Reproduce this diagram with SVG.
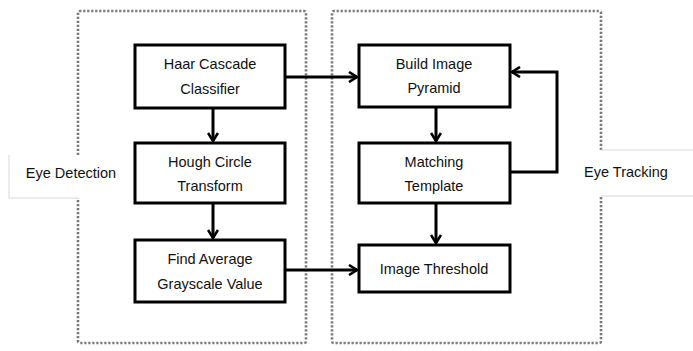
<svg xmlns="http://www.w3.org/2000/svg" width="693" height="351" viewBox="0 0 693 351">
<defs>
<style>
.node rect{fill:#fff;stroke:#000;stroke-width:3}
.node text,.lbl text{font-family:"Liberation Sans",Arial,sans-serif;font-size:14.5px;fill:#111;text-anchor:middle}
.dot{fill:none;stroke:#7a7a7a;stroke-width:2.6;stroke-dasharray:2.2 1.8}
.thin{fill:none;stroke:#d8d8d8;stroke-width:1}
.conn{fill:none;stroke:#000;stroke-width:3}
</style>
<marker id="ah" viewBox="0 0 12 12" refX="10" refY="6" markerWidth="12" markerHeight="12" markerUnits="userSpaceOnUse" orient="auto">
<path d="M2,1 L10,6 L2,11" fill="none" stroke="#000" stroke-width="2.6"/>
</marker>
</defs>
<rect width="693" height="351" fill="#fff"/>
<g id="groups">
<path class="dot" d="M78,155 L78,13 Q78,11 80,11 L304,11 Q306,11 306,13 L306,341 Q306,343 304,343 L80,343 Q78,343 78,341 L78,198"/>
<path class="dot" d="M601,150 L601,13 Q601,11 599,11 L334,11 Q332,11 332,13 L332,341 Q332,343 334,343 L599,343 Q601,343 601,341 L601,196"/>
</g>
<g id="label-eye-detection" class="lbl">
<path class="thin" d="M9,155 L9,198 L78,198"/>
<text x="71" y="178">Eye Detection</text>
</g>
<g id="label-eye-tracking" class="lbl">
<path class="thin" d="M601,150 L693,150 M601,196 L693,196"/>
<text x="626" y="177">Eye Tracking</text>
</g>
<g id="haar" class="node"><rect x="135" y="45" width="150" height="63"/><text x="210" y="69">Haar Cascade</text><text x="210" y="94">Classifier</text></g>
<g id="hough" class="node"><rect x="135" y="143" width="150" height="60"/><text x="210" y="167">Hough Circle</text><text x="210" y="191">Transform</text></g>
<g id="findavg" class="node"><rect x="135" y="240" width="150" height="62"/><text x="210" y="264">Find Average</text><text x="210" y="289">Grayscale Value</text></g>
<g id="pyramid" class="node"><rect x="359" y="45" width="151" height="62"/><text x="434" y="69">Build Image</text><text x="434" y="93">Pyramid</text></g>
<g id="matching" class="node"><rect x="359" y="143" width="151" height="60"/><text x="434" y="167">Matching</text><text x="434" y="191">Template</text></g>
<g id="threshold" class="node"><rect x="359" y="245" width="151" height="47"/><text x="434" y="274">Image Threshold</text></g>
<g id="connectors">
<line class="conn" x1="285" y1="77" x2="357" y2="77" marker-end="url(#ah)"/>
<line class="conn" x1="213" y1="108" x2="213" y2="141" marker-end="url(#ah)"/>
<line class="conn" x1="213" y1="203" x2="213" y2="238" marker-end="url(#ah)"/>
<line class="conn" x1="285" y1="270" x2="357" y2="270" marker-end="url(#ah)"/>
<line class="conn" x1="436" y1="107" x2="436" y2="141" marker-end="url(#ah)"/>
<line class="conn" x1="436" y1="203" x2="436" y2="243" marker-end="url(#ah)"/>
<path class="conn" d="M510,172 L557,172 L557,72 L512,72" marker-end="url(#ah)"/>
</g>
</svg>
